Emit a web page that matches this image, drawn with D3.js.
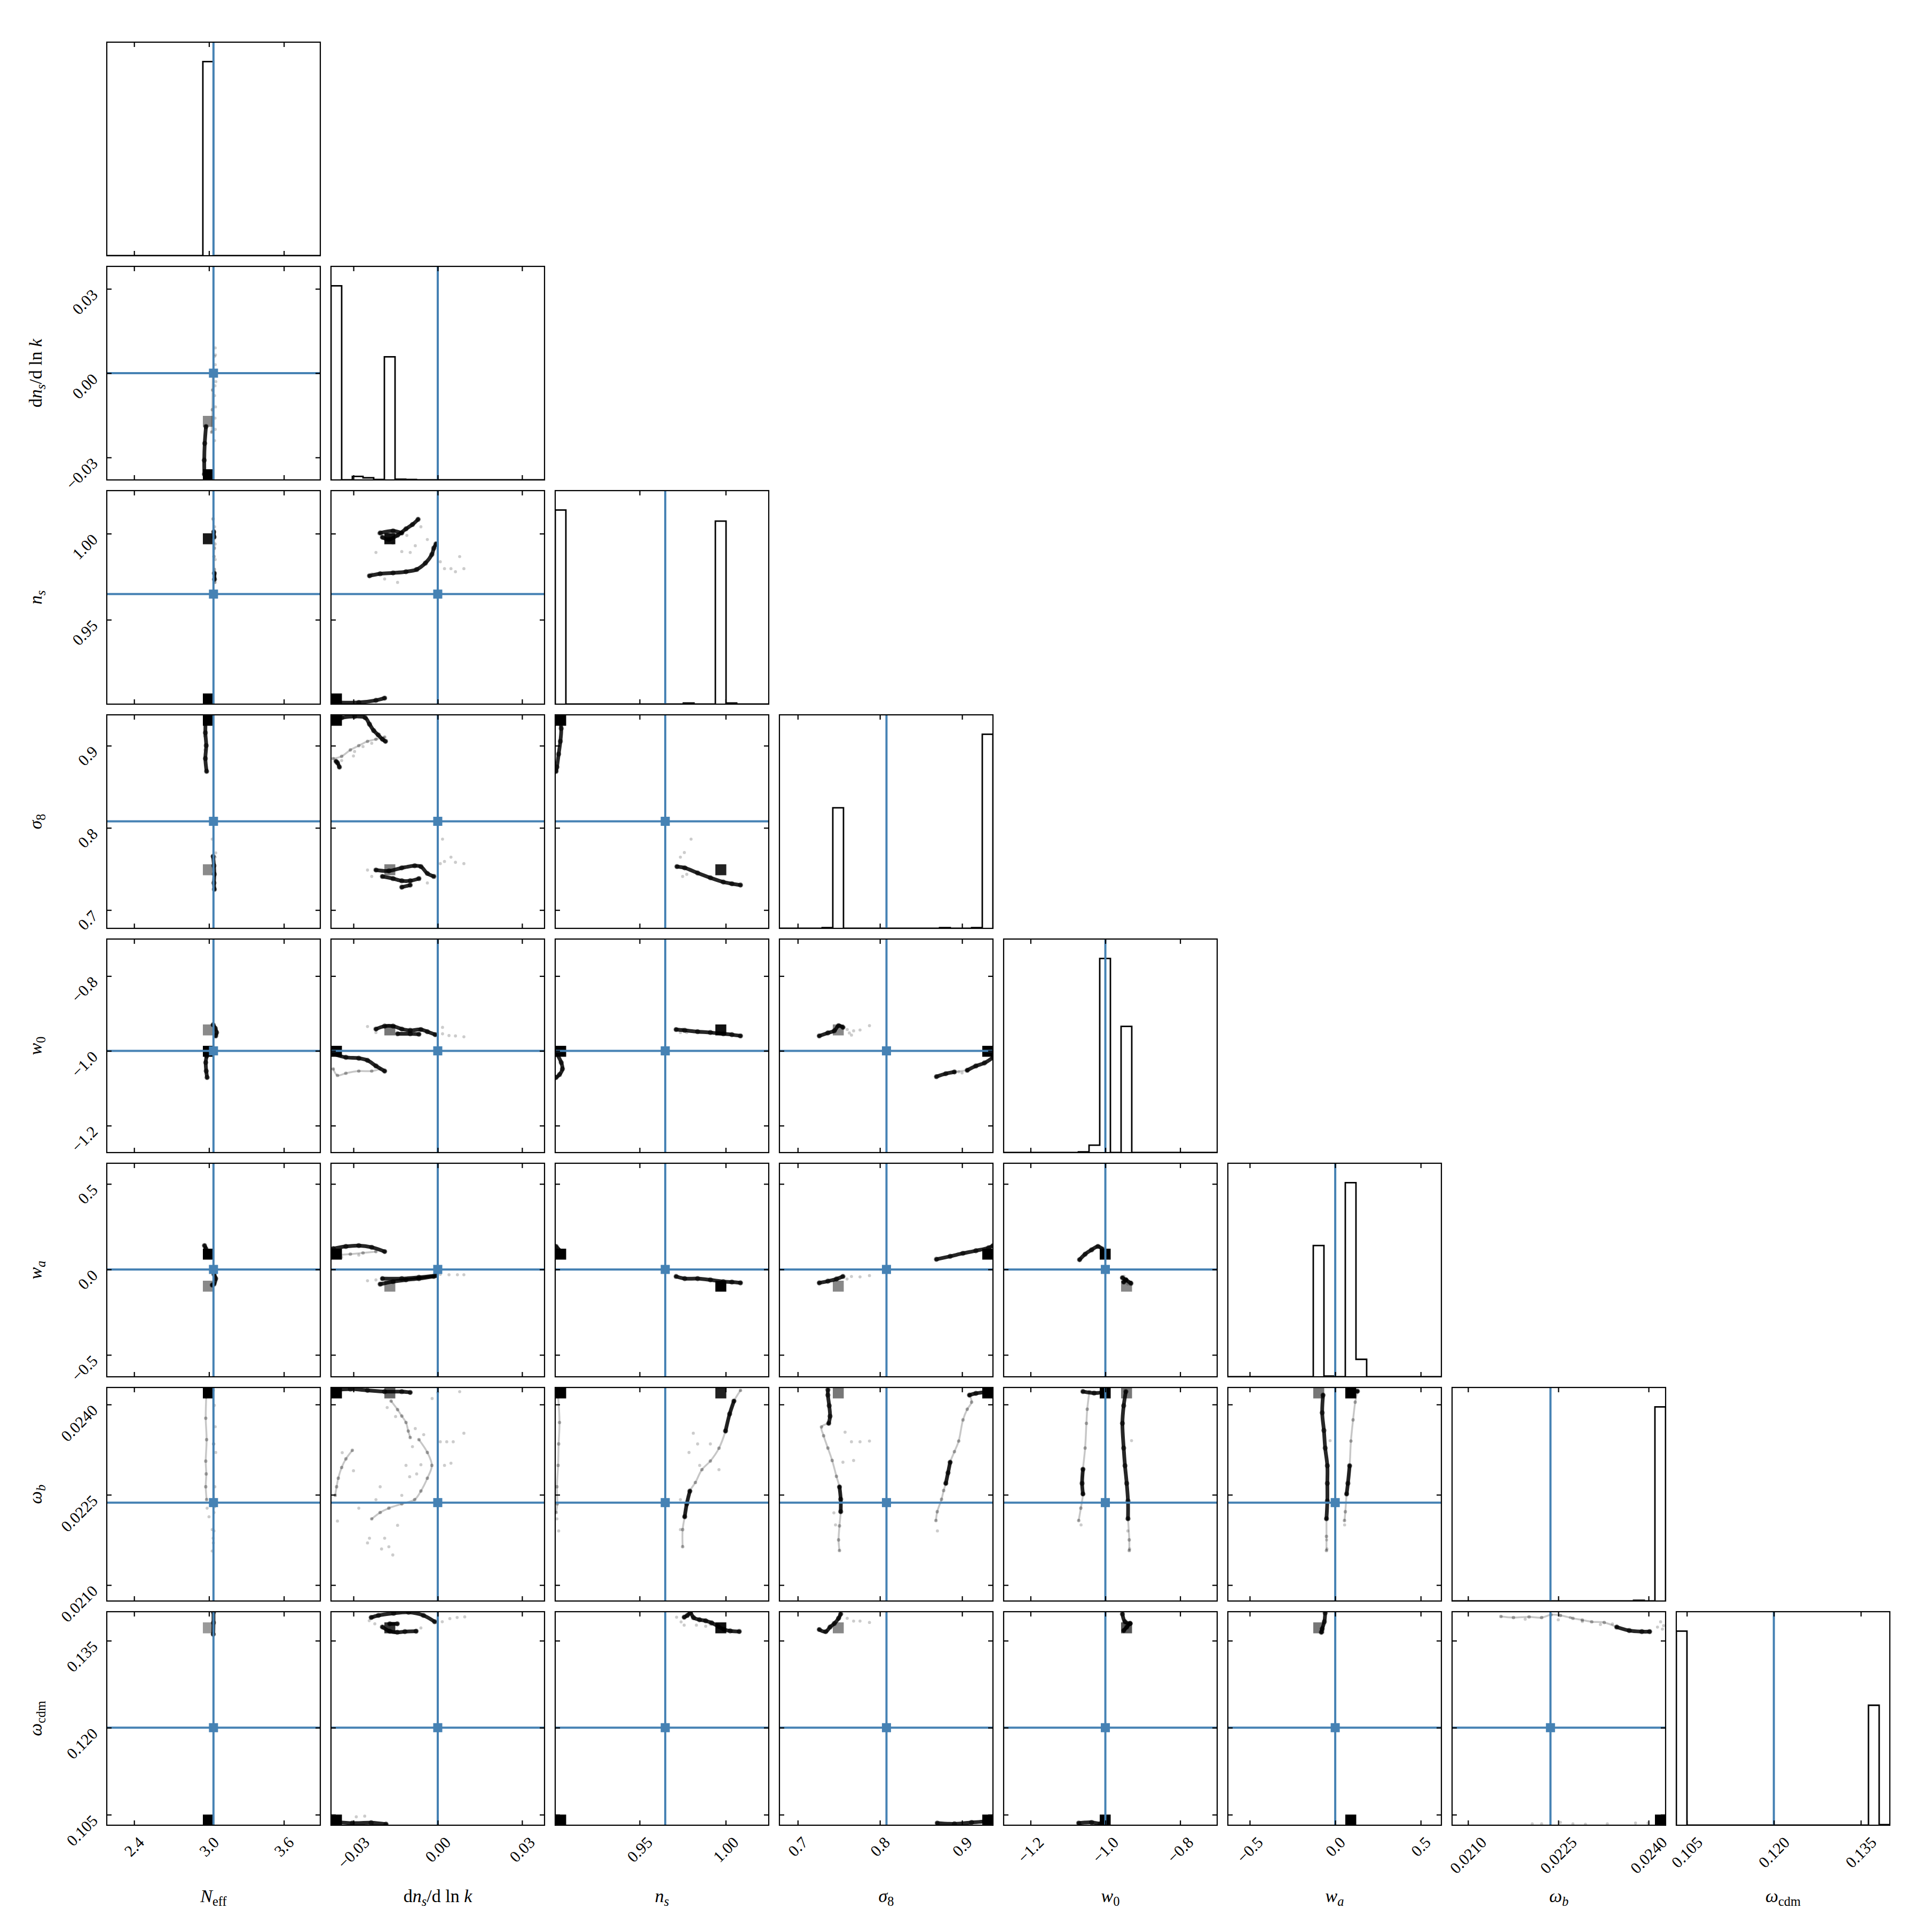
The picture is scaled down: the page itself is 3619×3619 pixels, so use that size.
<!DOCTYPE html>
<html><head><meta charset="utf-8">
<script src="https://cdn.jsdelivr.net/npm/d3@7"></script>
<style>body{margin:0;background:#fff}svg{display:block}</style>
</head><body>
<svg id="chart" width="3619" height="3619"></svg>
<script>
// ---------------- data ----------------
const paramRanges = [[2.181,3.892],[-0.038,0.038],[0.901,1.025],[0.6777,0.9376],[-1.272,-0.701],[-0.628,0.621],[0.020735,0.024283],[0.10318,0.14000]];
const truths = [3.036, 0.0, 0.9649, 0.808, -1.0, 0.0, 0.02237, 0.12];
const tickValues = [[2.4,3.0,3.6],[-0.03,0,0.03],[0.95,1.0],[0.7,0.8,0.9],[-1.2,-1.0,-0.8],[-0.5,0,0.5],[0.021,0.0225,0.024],[0.105,0.12,0.135]];
const tickLabels = [["2.4","3.0","3.6"],["\u22120.03","0.00","0.03"],["0.95","1.00"],["0.7","0.8","0.9"],["\u22121.2","\u22121.0","\u22120.8"],["\u22120.5","0.0","0.5"],["0.0210","0.0225","0.0240"],["0.105","0.120","0.135"]];
const axisLabels = [
  [["N","it"],["eff","subrm"]],
  [["d","rm"],["n","it"],["s","subit"],["/d ln ","rm"],["k","it"]],
  [["n","it"],["s","subit"]],
  [["\u03c3","it"],["8","subrm"]],
  [["w","it"],["0","subrm"]],
  [["w","it"],["a","subit"]],
  [["\u03c9","it"],["b","subit"]],
  [["\u03c9","it"],["cdm","subrm"]]
];
// 1D histograms (20 bins, relative heights)
const histNeff   = [0,0,0,0,0,0,0,0,0,1,0,0,0,0,0,0,0,0,0,0];
const histDns    = [1,0,0.018,0.011,0.002,0.634,0.004,0.002,0,0,0,0,0,0,0,0,0,0,0,0];
const histNs     = [1,0,0,0,0,0,0,0,0,0,0,0,0.006,0,0,0.943,0.006,0,0,0];
const histSigma8 = [0,0,0,0,0.004,0.621,0,0,0,0,0,0,0,0,0,0.004,0,0,0.004,1];
const histW0     = [0,0,0,0,0,0,0,0.004,0.038,1,0,0.65,0,0,0,0,0,0,0,0];
const histWa     = [0,0,0,0,0,0,0,0,0.676,0.004,0,1,0.09,0,0,0,0,0,0,0];
const histOmegab = [0,0,0,0,0,0,0,0,0,0,0,0,0,0,0,0,0,0.004,0,1];
const histOmegacdm=[1,0,0,0,0,0,0,0,0,0,0,0,0,0,0,0,0,0,0.618,0.003];
const hists = [histNeff,histDns,histNs,histSigma8,histW0,histWa,histOmegab,histOmegacdm];
// 2D density cells: [row, col, x, y, shade]
const densityCells = [
 [1,0,2.994,-0.0361,"#000"],[1,0,2.994,-0.0171,"#8a8a8a"],
 [2,0,2.994,0.9971,"#1a1a1a"],[2,0,2.994,0.9041,"#000"],
 [2,1,-0.0171,0.9971,"#111"],[2,1,-0.0361,0.9041,"#000"],
 [3,0,2.994,0.9311,"#000"],[3,0,2.994,0.7492,"#8a8a8a"],
 [3,1,-0.0361,0.9311,"#000"],[3,1,-0.0171,0.7492,"#808080"],
 [3,2,0.9041,0.9311,"#000"],[3,2,0.9971,0.7492,"#222"],
 [4,0,2.994,-0.9437,"#8a8a8a"],[4,0,2.994,-1.0008,"#000"],
 [4,1,-0.0361,-1.0008,"#000"],[4,1,-0.0171,-0.9437,"#777"],
 [4,2,0.9041,-1.0008,"#000"],[4,2,0.9971,-0.9437,"#111"],
 [4,3,0.7492,-0.9437,"#888"],[4,3,0.9311,-1.0008,"#000"],
 [5,0,2.994,0.0902,"#000"],[5,0,2.994,-0.0972,"#8a8a8a"],
 [5,1,-0.0361,0.0902,"#000"],[5,1,-0.0171,-0.0972,"#8a8a8a"],
 [5,2,0.9041,0.0902,"#000"],[5,2,0.9971,-0.0972,"#000"],
 [5,3,0.9311,0.0902,"#000"],[5,3,0.7492,-0.0972,"#888"],
 [5,4,-1.0008,0.0902,"#000"],[5,4,-0.9437,-0.0972,"#888"],
 [6,0,2.994,0.024194,"#000"],
 [6,1,-0.0361,0.024194,"#000"],[6,1,-0.0171,0.024194,"#666"],
 [6,2,0.9041,0.024194,"#000"],[6,2,0.9971,0.024194,"#222"],
 [6,3,0.7492,0.024194,"#777"],[6,3,0.9311,0.024194,"#000"],
 [6,4,-1.0008,0.024194,"#000"],[6,4,-0.9437,0.024194,"#777"],
 [6,5,-0.0972,0.024194,"#777"],[6,5,0.0902,0.024194,"#000"],
 [7,0,2.994,0.13634,"#999"],[7,0,2.994,0.1041,"#000"],
 [7,1,-0.0361,0.1041,"#000"],[7,1,-0.0171,0.13634,"#333"],
 [7,2,0.9041,0.1041,"#000"],[7,2,0.9971,0.13634,"#111"],
 [7,3,0.7492,0.13634,"#888"],[7,3,0.9311,0.1041,"#000"],
 [7,4,-1.0008,0.1041,"#000"],[7,4,-0.9437,0.13634,"#555"],
 [7,5,-0.0972,0.13634,"#777"],[7,5,0.0902,0.1041,"#000"],
 [7,6,0.024194,0.1041,"#000"]
];
// dense sample chains: [row, col, points]
const denseTracks = [
 [1,0,[[2.963,-0.036],[2.962,-0.031],[2.966,-0.025],[2.976,-0.019]]],
 [2,0,[[3.038,1.0010],[3.041,0.9980]]],
 [2,0,[[3.043,0.9770],[3.044,0.9735]]],
 [2,1,[[-0.0197,0.9979],[-0.0174,0.9966],[-0.0143,0.9991],[-0.0113,1.0028],[-0.009,1.0053],[-0.007,1.0083]]],
 [2,1,[[-0.0205,1.0004],[-0.0159,1.0016],[-0.0128,1.0004]]],
 [2,1,[[-0.0243,0.9755],[-0.0205,0.9767],[-0.0159,0.9772],[-0.0113,0.9779],[-0.0075,0.9792],[-0.0044,0.9829],[-0.0021,0.9879],[-0.0014,0.9916],[-0.0006,0.9941]]],
 [2,1,[[-0.0372,0.902],[-0.0281,0.902],[-0.022,0.9032],[-0.0189,0.9045]]],
 [3,0,[[2.974,0.934],[2.971,0.9157],[2.978,0.9001],[2.971,0.8844],[2.981,0.8688]]],
 [3,0,[[3.033,0.7654],[3.040,0.7539],[3.043,0.7435],[3.040,0.733],[3.043,0.7252]]],
 [3,1,[[-0.0342,0.934],[-0.0296,0.9356],[-0.0258,0.934],[-0.0243,0.9262],[-0.0228,0.9184],[-0.0212,0.9131],[-0.0197,0.9079],[-0.0186,0.9053]]],
 [3,1,[[-0.0362,0.8810],[-0.0357,0.8792],[-0.035,0.874]]],
 [3,1,[[-0.022,0.7487],[-0.0174,0.7476],[-0.0128,0.7513],[-0.0082,0.7539],[-0.006,0.7529],[-0.0037,0.7445],[-0.0014,0.7409]]],
 [3,1,[[-0.0197,0.7409],[-0.0159,0.7383],[-0.0128,0.7356],[-0.0098,0.7356],[-0.0067,0.7383]]],
 [3,1,[[-0.0128,0.7278],[-0.0098,0.7304]]],
 [3,2,[[0.9035,0.934],[0.9045,0.9209],[0.904,0.9053],[0.903,0.8897],[0.902,0.874],[0.9015,0.8688]]],
 [3,2,[[0.9717,0.7529],[0.9762,0.7513],[0.9837,0.7451],[0.9911,0.7393],[0.9986,0.7341],[1.0036,0.732],[1.0086,0.7304]]],
 [4,0,[[3.033,-0.9303],[3.050,-0.9395],[3.061,-0.951],[3.054,-0.9601]]],
 [4,0,[[2.981,-1.014],[2.974,-1.0312],[2.978,-1.0541],[2.985,-1.0713]]],
 [4,1,[[-0.022,-0.9418],[-0.0189,-0.9338],[-0.0159,-0.9338],[-0.0128,-0.9418],[-0.0098,-0.9452],[-0.006,-0.9429],[-0.0037,-0.9487],[-0.0009,-0.9567]]],
 [4,1,[[-0.0143,-0.9544],[-0.0098,-0.9544],[-0.0067,-0.9555]]],
 [4,1,[[-0.0372,-1.0083],[-0.0327,-1.0174],[-0.0281,-1.0197],[-0.025,-1.0255],[-0.022,-1.0404],[-0.0189,-1.0541]]],
 [4,2,[[0.9712,-0.943],[0.9762,-0.9452],[0.9837,-0.9487],[0.9911,-0.951],[0.9986,-0.9544],[1.0036,-0.9567],[1.0086,-0.9601]]],
 [4,2,[[0.902,-1.0083],[0.9045,-1.0312],[0.9052,-1.0484],[0.9035,-1.0633],[0.9015,-1.0713]]],
 [4,3,[[0.7262,-0.9601],[0.7367,-0.9521],[0.7445,-0.9464],[0.7497,-0.9326],[0.755,-0.9372]]],
 [4,3,[[0.8688,-1.069],[0.8802,-1.061],[0.8907,-1.0564]]],
 [4,3,[[0.9063,-1.0519],[0.9168,-1.0404],[0.9272,-1.0324],[0.9377,-1.0175]]],
 [5,0,[[2.964,0.1394],[2.975,0.1219],[2.978,0.0968]]],
 [5,0,[[3.040,-0.0286],[3.054,-0.0537],[3.040,-0.0863],[3.026,-0.0913]]],
 [5,1,[[-0.0372,0.1219],[-0.0327,0.1344],[-0.0281,0.1394],[-0.0235,0.1294],[-0.0189,0.1043]]],
 [5,1,[[-0.0205,-0.0863],[-0.0159,-0.0712],[-0.0113,-0.0612],[-0.0067,-0.0537],[-0.0014,-0.0411]]],
 [5,1,[[-0.0197,-0.0537],[-0.0128,-0.0537],[-0.0067,-0.0461],[-0.0006,-0.0361]]],
 [5,2,[[0.9712,-0.0411],[0.9762,-0.0537],[0.9837,-0.0537],[0.9911,-0.0612],[0.9986,-0.0712],[1.0036,-0.0737],[1.0086,-0.0787]]],
 [5,2,[[0.9015,0.1344],[0.9035,0.1093],[0.9027,0.0843]]],
 [5,3,[[0.8688,0.0592],[0.8855,0.0767],[0.9011,0.0943],[0.9168,0.1094],[0.9324,0.1269],[0.9377,0.1395]]],
 [5,3,[[0.7262,-0.0788],[0.7367,-0.0687],[0.7471,-0.0562],[0.755,-0.0411]]],
 [5,4,[[-1.069,0.0567],[-1.0541,0.0893],[-1.0369,0.1144],[-1.0198,0.1345],[-1.0083,0.1194]]],
 [5,4,[[-0.9544,-0.0487],[-0.9452,-0.0612],[-0.9315,-0.0813]]],
 [5,4,[[-0.951,-0.0737],[-0.9452,-0.0612]]],
 [6,1,[[-0.0372,0.024235],[-0.0311,0.024256],[-0.025,0.024235],[-0.0189,0.024214],[-0.0128,0.024214],[-0.0098,0.0242]]],
 [6,2,[[1.0048,0.024057],[1.0023,0.023843],[0.9999,0.023559]]],
 [6,2,[[0.9792,0.022562],[0.9774,0.022349],[0.9762,0.022135]]],
 [6,3,[[0.7367,0.024244],[0.7367,0.024156],[0.7383,0.02398],[0.7393,0.023804],[0.7377,0.023687]]],
 [6,3,[[0.7508,0.02263],[0.7523,0.022425],[0.7523,0.022219]]],
 [6,3,[[0.935,0.024215],[0.9168,0.024185],[0.909,0.024156]]],
 [6,3,[[0.8855,0.023041],[0.8829,0.022865],[0.8802,0.022689]]],
 [6,4,[[-1.0599,0.022924],[-1.0622,0.022689],[-1.0599,0.022513]]],
 [6,4,[[-0.9452,0.024215],[-0.951,0.02398],[-0.9544,0.023687],[-0.951,0.023276],[-0.9475,0.022982],[-0.9429,0.022689],[-0.9395,0.022396],[-0.9395,0.022102]]],
 [6,4,[[-1.06,0.024215],[-1.03,0.02419],[-1.01,0.0242]]],
 [6,5,[[-0.0712,0.024156],[-0.0762,0.023863],[-0.0662,0.023569],[-0.0587,0.023276],[-0.0461,0.022982],[-0.0461,0.022689],[-0.0461,0.022396],[-0.0512,0.022102]]],
 [6,5,[[0.0843,0.022982],[0.0742,0.022689],[0.0667,0.022513]]],
 [6,5,[[0.09,0.02422],[0.13,0.02422]]],
 [7,0,[[3.036,0.1399],[3.036,0.1381],[3.034,0.1361]]],
 [7,1,[[-0.0237,0.139],[-0.0211,0.13936],[-0.0157,0.13972],[-0.0104,0.1399],[-0.0051,0.13936],[-0.0011,0.13827]]],
 [7,1,[[-0.0197,0.13736],[-0.0171,0.13663],[-0.0144,0.13645],[-0.0117,0.13656],[-0.0077,0.13663]]],
 [7,1,[[-0.0171,0.13791],[-0.0144,0.13791]]],
 [7,1,[[-0.0357,0.10372],[-0.0304,0.10354],[-0.0237,0.10361],[-0.0184,0.10336]]],
 [7,2,[[0.9759,0.13905],[0.9777,0.13935],[0.9795,0.13979],[0.9813,0.13898],[0.9848,0.13861],[0.9884,0.13843],[0.9919,0.13806],[0.9955,0.1375],[0.999,0.13694],[1.0026,0.13668],[1.0079,0.13658]]],
 [7,3,[[0.7262,0.13692],[0.734,0.13655],[0.7393,0.13735],[0.7445,0.13796],[0.7497,0.13887],[0.7523,0.1396]]],
 [7,3,[[0.8698,0.10355],[0.8907,0.10342],[0.9116,0.10367],[0.9272,0.10385],[0.9377,0.10446]]],
 [7,4,[[-0.9544,0.1396],[-0.9475,0.13826],[-0.9338,0.13796]]],
 [7,4,[[-0.951,0.13674],[-0.9429,0.13735],[-0.9338,0.13796]]],
 [7,4,[[-1.0713,0.10355],[-1.0369,0.10367],[-1.014,0.10342]]],
 [7,5,[[-0.0587,0.13978],[-0.0637,0.13826],[-0.0762,0.13705],[-0.0812,0.13644]]],
 [7,6,[[0.023471,0.13735],[0.023679,0.13674],[0.023888,0.13656],[0.024018,0.13656]]]
];
// sparse sample chains: [row, col, points]
const sparseTracks = [
 [1,0,[[3.022,-0.021],[3.027,-0.013],[3.029,-0.006],[3.031,0.0]]],
 [2,0,[[3.033,1.0086],[3.040,1.0016],[3.043,0.9916],[3.040,0.9867],[3.043,0.9792],[3.047,0.9717]]],
 [3,1,[[-0.0372,0.8844],[-0.0342,0.8871],[-0.0311,0.8949],[-0.0281,0.9001],[-0.025,0.9053],[-0.022,0.9079],[-0.0189,0.9105]]],
 [4,1,[[-0.0372,-1.0484],[-0.0357,-1.0656],[-0.0327,-1.0599],[-0.0281,-1.0541],[-0.0235,-1.0541],[-0.0205,-1.0484]]],
 [4,3,[[0.8907,-1.0564],[0.9063,-1.0519]]],
 [5,1,[[-0.0365,0.0843],[-0.0311,0.0893],[-0.0266,0.0968],[-0.022,0.1043]]],
 [6,0,[[3.033,0.024235],[3.037,0.023345],[3.040,0.02242]]],
 [6,0,[[2.978,0.024128],[2.974,0.023772],[2.981,0.023416],[2.974,0.02306],[2.978,0.022847],[2.974,0.022633],[2.981,0.02242]]],
 [6,1,[[-0.0166,0.024057],[-0.0143,0.023915],[-0.0128,0.023808],[-0.0113,0.023701],[-0.0105,0.023559],[-0.0098,0.023452]]],
 [6,1,[[-0.0067,0.023416],[-0.0037,0.023203],[-0.0021,0.022989],[-0.0037,0.022776],[-0.006,0.022562],[-0.0082,0.02242],[-0.0128,0.022349],[-0.0174,0.022278],[-0.0205,0.022206],[-0.0235,0.0221]]],
 [6,1,[[-0.0365,0.022491],[-0.036,0.022633],[-0.0354,0.022776],[-0.0342,0.022954],[-0.0327,0.023096],[-0.0304,0.023238]]],
 [6,2,[[1.0086,0.024235],[1.0048,0.024057],[1.0023,0.023843],[0.9999,0.023559],[0.9961,0.023274],[0.9911,0.023061],[0.9862,0.022918],[0.9824,0.022705],[0.9792,0.022562],[0.9774,0.022349],[0.9762,0.022135],[0.975,0.021922],[0.975,0.021637]]],
 [6,2,[[0.9027,0.024128],[0.9035,0.023701],[0.903,0.023345],[0.9027,0.022989],[0.902,0.022633],[0.9022,0.022349],[0.9015,0.022206]]],
 [6,3,[[0.7377,0.023687],[0.7289,0.023628],[0.7315,0.023481],[0.7367,0.023276],[0.7419,0.02307],[0.7471,0.022806],[0.7508,0.02263],[0.7523,0.022425],[0.7523,0.022219],[0.7508,0.021984],[0.7497,0.02175],[0.7508,0.021574]]],
 [6,3,[[0.909,0.024156],[0.9116,0.024039],[0.9063,0.023922],[0.9011,0.023745],[0.8959,0.023393],[0.8907,0.023217],[0.8855,0.023041],[0.8829,0.022865],[0.8802,0.022689],[0.8776,0.022571],[0.875,0.022425],[0.8698,0.022219],[0.8682,0.022072]]],
 [6,4,[[-1.0427,0.024215],[-1.0484,0.023922],[-1.0507,0.023687],[-1.0541,0.023276],[-1.0599,0.022924],[-1.0622,0.022689],[-1.0599,0.022513],[-1.0656,0.022278],[-1.0713,0.022072]]],
 [6,4,[[-0.9395,0.022102],[-0.9361,0.02175],[-0.9361,0.021574]]],
 [6,5,[[-0.0512,0.022102],[-0.0512,0.021808],[-0.0512,0.021574]]],
 [6,5,[[0.1294,0.024215],[0.1169,0.024039],[0.1043,0.023745],[0.0918,0.023393],[0.0843,0.022982],[0.0742,0.022689],[0.0667,0.022513],[0.0592,0.022219],[0.0542,0.022072]]],
 [7,6,[[0.021547,0.13917],[0.021755,0.13899],[0.022015,0.13911],[0.022223,0.13899],[0.022379,0.13947],[0.022535,0.13935],[0.022743,0.13886],[0.022899,0.13856],[0.023055,0.13826],[0.023263,0.13814],[0.023471,0.13735]]]
];
// isolated faint samples: [row, col, x, y]
const scatterDots = [
 [1,0,3.05,0.009],[1,0,3.045,0.006],[1,0,3.05,0.003],[1,0,3.055,-0.003],[1,0,3.045,-0.008],[1,0,3.052,-0.012],[1,0,3.048,-0.016],[1,0,3.05,-0.020],[1,0,3.045,-0.024],[1,0,3.052,0.0065],[1,0,3.048,-0.0045],
 [2,0,3.047,0.976],[2,0,3.05,0.985],[2,0,3.045,1.004],[2,0,3.05,0.994],
 [2,1,-0.022,0.9891],[2,1,-0.0128,0.9896],[2,1,-0.0098,0.9891],[2,1,-0.0037,0.9966],[2,1,0.0009,0.9837],[2,1,0.0024,0.9797],[2,1,0.0047,0.9797],[2,1,0.0063,0.9779],[2,1,0.0078,0.9867],[2,1,0.0093,0.9797],[2,1,-0.0143,0.9717],[2,1,-0.0189,0.9737],[2,1,-0.0235,0.9767],[2,1,-0.021,1.0],[2,1,-0.016,0.9945],[2,1,-0.011,0.999],[2,1,-0.008,0.993],[2,1,-0.006,1.004],
 [3,0,3.026,0.7863],[3,0,3.05,0.7644],[3,0,3.054,0.7696],[3,0,2.965,0.912],[3,0,2.968,0.895],
 [3,1,0.0009,0.7565],[3,1,0.0024,0.7591],[3,1,0.0047,0.7644],[3,1,0.0063,0.7581],[3,1,0.0093,0.7565],[3,1,0.0017,0.7863],[3,1,-0.025,0.7487],[3,1,-0.0235,0.7409],[3,1,-0.0037,0.733],[3,1,-0.0296,0.893],[3,1,-0.0266,0.899],[3,1,-0.0235,0.903],[3,1,-0.0342,0.882],[3,1,-0.03,0.8875],
 [3,2,0.9737,0.7644],[3,2,0.9799,0.7863],[3,2,0.9774,0.7435],[3,2,0.975,0.7409],[3,2,0.976,0.77],
 [4,1,-0.025,-0.9349],[4,1,-0.022,-0.951],[4,1,0.0017,-0.9544],[4,1,0.004,-0.959],[4,1,0.0063,-0.9601],[4,1,0.0093,-0.9624],[4,1,0.0017,-0.9372],
 [4,2,0.975,-0.9418],[4,2,0.9774,-0.951],[4,2,0.9737,-0.951],
 [4,3,0.7602,-0.9429],[4,3,0.7628,-0.9521],[4,3,0.7654,-0.9578],[4,3,0.768,-0.9464],[4,3,0.7758,-0.9441],[4,3,0.7873,-0.9326],[4,3,0.896,-1.056],[4,3,0.9,-1.059],
 [5,1,-0.025,-0.0662],[5,1,-0.022,-0.0612],[5,1,0.0009,-0.0286],[5,1,0.004,-0.0311],[5,1,0.007,-0.0311],[5,1,0.0093,-0.0311],[5,1,-0.0342,0.0717],[5,1,-0.0281,0.0843],
 [5,3,0.7654,-0.0411],[5,3,0.7758,-0.0436],[5,3,0.7873,-0.0361],[5,3,0.76,-0.056],
 [5,4,-0.95,-0.04],[5,4,-0.94,-0.085],
 [6,0,3.043,0.023986],[6,0,3.05,0.02363],[6,0,3.054,0.023203],[6,0,3.047,0.022633],[6,0,3.04,0.022206],[6,0,3.026,0.021922],[6,0,3.033,0.021779],[6,0,3.026,0.021566],[6,0,3.0,0.022135],[6,0,2.985,0.022278],[6,0,3.04,0.0219],[6,0,3.035,0.0217],[6,0,3.045,0.0223],
 [6,1,-0.0189,0.021779],[6,1,-0.0174,0.021637],[6,1,-0.0243,0.021779],[6,1,-0.0357,0.022064],[6,1,0.0009,0.023381],[6,1,0.0032,0.023381],[6,1,0.0055,0.023381],[6,1,0.0093,0.023523],[6,1,0.0024,0.022989],[6,1,0.0047,0.023025],[6,1,0.0078,0.024214],[6,1,-0.0281,0.022278],[6,1,-0.0143,0.021993],[6,1,-0.022,0.02242],[6,1,-0.0075,0.022847],[6,1,-0.0113,0.022989],[6,1,-0.0205,0.022633],[6,1,-0.0128,0.022491],[6,1,-0.015,0.0238],[6,1,-0.008,0.0236],[6,1,-0.009,0.0233],[6,1,-0.005,0.0235],[6,1,-0.018,0.02395],[6,1,-0.025,0.0217],[6,1,-0.02,0.0216],[6,1,-0.016,0.0215],[6,1,-0.03,0.0229],[6,1,-0.034,0.0232],[6,1,-0.002,0.0241],[6,1,0.0,0.0242],[6,1,-0.01,0.0228],[6,1,-0.006,0.023],
 [6,2,0.9812,0.023523],[6,2,0.9787,0.023203],[6,2,0.9837,0.023345],[6,2,0.9911,0.023345],[6,2,0.9961,0.022918],[6,2,0.9737,0.021922],[6,2,0.9849,0.022989],[6,2,0.9737,0.02242],[6,2,0.902,0.0221],[6,2,0.903,0.0219],
 [6,3,0.7576,0.02354],[6,3,0.7654,0.023381],[6,3,0.7758,0.023381],[6,3,0.7873,0.023393],[6,3,0.768,0.02307],[6,3,0.755,0.023041],[6,3,0.746,0.022],[6,3,0.744,0.0222],[6,3,0.87,0.0219],
 [6,4,-1.065,0.022],[6,4,-0.94,0.0219],[6,4,-0.935,0.0216],[6,4,-0.93,0.0234],
 [6,5,-0.05,0.02175],[6,5,-0.048,0.0216],[6,5,0.055,0.022],[6,5,-0.03,0.0234],
 [7,1,0.0016,0.13827],[7,1,0.0043,0.13881],[7,1,0.0069,0.139],[7,1,0.0096,0.13911],[7,1,-0.0244,0.13845],[7,1,-0.0224,0.13791],[7,1,-0.029,0.10463],[7,1,-0.026,0.10475],[7,1,-0.023,0.139],[7,1,-0.006,0.1372],
 [7,2,0.9715,0.13905],[7,2,0.9741,0.13824],[7,2,0.9759,0.13768],[7,2,0.983,0.13768],[7,2,0.9884,0.1375],[7,2,0.991,0.13787],
 [7,3,0.7602,0.13887],[7,3,0.768,0.13838],[7,3,0.7758,0.13838],[7,3,0.7873,0.13814],
 [7,6,0.024148,0.13735],[7,6,0.0242,0.13826],[7,6,0.02425,0.1376],[7,6,0.02423,0.137],[7,6,0.022067,0.10342],[7,6,0.022223,0.10342],[7,6,0.022535,0.10367],[7,6,0.022743,0.10342],[7,6,0.022951,0.10336],[7,6,0.023315,0.10342],[7,6,0.023783,0.10355],[7,6,0.023992,0.10355],[7,6,0.02195,0.1387],[7,6,0.0225,0.1386],[7,6,0.0229,0.1383],[7,6,0.0232,0.1378],[7,6,0.0234,0.1379],[7,6,0.0227,0.139]
];

// ---------------- drawing ----------------
const NP = 8, size = 400, step = 420, left0 = 200, top0 = 79;
const fs = 30, lfs = 34, fontFam = "'Liberation Serif','DejaVu Serif',serif";
const blue = "#4682b4";
const svg = d3.select("#chart");
svg.append("rect").attr("width",3619).attr("height",3619).attr("fill","#fff");
svg.append("defs").append("clipPath").attr("id","pclip").append("rect").attr("width",size).attr("height",size);

const xScales = paramRanges.map(r => d3.scaleLinear().domain(r).range([0,size]));
const yScales = paramRanges.map(r => d3.scaleLinear().domain(r).range([size,0]));
const nb = 20;

function richText(sel, segs){
  let shift = 0;
  segs.forEach(([t,k]) => {
    const sub = k.startsWith("sub");
    const ts = sel.append("tspan").text(t)
      .attr("font-style", k.endsWith("it") ? "italic" : "normal")
      .attr("font-size", sub ? lfs*0.72 : lfs);
    const target = sub ? lfs*0.22 : 0;
    if (target !== shift) { ts.attr("dy", target - shift); shift = target; }
  });
}

function styleAxis(a){
  a.select(".domain").remove();
  a.selectAll(".tick line").attr("stroke","#000").attr("stroke-width",2.2);
  a.selectAll(".tick text").remove();
}

for (let r = 0; r < NP; r++) {
  for (let c = 0; c <= r; c++) {
    const g = svg.append("g").attr("transform", `translate(${left0 + c*step},${top0 + r*step})`);
    const x = xScales[c];
    const [xlo, xhi] = paramRanges[c];
    const inner = g.append("g").attr("clip-path","url(#pclip)");
    if (r === c) {
      const h = hists[c];
      const bw = (xhi - xlo) / h.length;
      const y = d3.scaleLinear().domain([0, 1.1*d3.max(h)]).range([size,0]);
      const pts = [[xlo,0]];
      h.forEach((v,i) => { pts.push([xlo+i*bw, v]); pts.push([xlo+(i+1)*bw, v]); });
      pts.push([xhi,0]);
      inner.append("path").attr("d", d3.line().x(d=>x(d[0])).y(d=>y(d[1]))(pts))
        .attr("fill","none").attr("stroke","#000").attr("stroke-width",2.8);
      inner.append("line").attr("x1",x(truths[c])).attr("x2",x(truths[c])).attr("y1",0).attr("y2",size)
        .attr("stroke",blue).attr("stroke-width",4);
    } else {
      const y = yScales[r];
      const [ylo, yhi] = paramRanges[r];
      const bwx = (xhi-xlo)/nb, bwy = (yhi-ylo)/nb;
      densityCells.filter(d => d[0]===r && d[1]===c).forEach(d => {
        const ix = Math.floor((d[2]-xlo)/bwx), iy = Math.floor((d[3]-ylo)/bwy);
        const x0 = x(xlo+ix*bwx), x1 = x(xlo+(ix+1)*bwx);
        const y0 = y(ylo+(iy+1)*bwy), y1 = y(ylo+iy*bwy);
        inner.append("rect").attr("x",x0).attr("y",y0).attr("width",x1-x0+0.5).attr("height",y1-y0+0.5).attr("fill",d[4]);
      });
      const line = d3.line().x(d=>x(d[0])).y(d=>y(d[1])).curve(d3.curveCatmullRom.alpha(0.5));
      sparseTracks.filter(d => d[0]===r && d[1]===c).forEach(d => {
        inner.append("path").attr("d", line(d[2])).attr("fill","none").attr("stroke","#000")
          .attr("stroke-opacity",0.22).attr("stroke-width",3.5).attr("stroke-linecap","round");
        d[2].forEach(p => inner.append("circle").attr("cx",x(p[0])).attr("cy",y(p[1])).attr("r",3.2).attr("fill","#000").attr("fill-opacity",0.3));
      });
      denseTracks.filter(d => d[0]===r && d[1]===c).forEach(d => {
        inner.append("path").attr("d", line(d[2])).attr("fill","none").attr("stroke","#000")
          .attr("stroke-opacity",0.85).attr("stroke-width",7).attr("stroke-linecap","round").attr("stroke-linejoin","round");
        d[2].forEach(p => inner.append("circle").attr("cx",x(p[0])).attr("cy",y(p[1])).attr("r",4.8).attr("fill","#000").attr("fill-opacity",0.55));
      });
      scatterDots.filter(d => d[0]===r && d[1]===c).forEach(d => {
        inner.append("circle").attr("cx",x(d[2])).attr("cy",y(d[3])).attr("r",2.9).attr("fill","#000").attr("fill-opacity",0.2);
      });
      const tx = x(truths[c]), ty = y(truths[r]);
      inner.append("line").attr("x1",tx).attr("x2",tx).attr("y1",0).attr("y2",size).attr("stroke",blue).attr("stroke-width",4);
      inner.append("line").attr("x1",0).attr("x2",size).attr("y1",ty).attr("y2",ty).attr("stroke",blue).attr("stroke-width",4);
      inner.append("rect").attr("x",tx-8.5).attr("y",ty-8.5).attr("width",17).attr("height",17).attr("fill",blue);
    }
    // frame
    g.append("rect").attr("width",size).attr("height",size).attr("fill","none").attr("stroke","#000").attr("stroke-width",2.2);
    // ticks
    const xt = tickValues[c].filter(t => t>=xlo && t<=xhi);
    g.append("g").attr("transform",`translate(0,${size})`).call(d3.axisBottom(x).tickValues(xt).tickSize(-9).tickSizeOuter(0)).call(styleAxis);
    g.append("g").call(d3.axisTop(x).tickValues(xt).tickSize(-9).tickSizeOuter(0)).call(styleAxis);
    if (r !== c) {
      const y = yScales[r];
      const [ylo, yhi] = paramRanges[r];
      const yt = tickValues[r].filter(t => t>=ylo && t<=yhi);
      g.append("g").call(d3.axisLeft(y).tickValues(yt).tickSize(-9).tickSizeOuter(0)).call(styleAxis);
      g.append("g").attr("transform",`translate(${size},0)`).call(d3.axisRight(y).tickValues(yt).tickSize(-9).tickSizeOuter(0)).call(styleAxis);
      if (c === 0) {
        tickValues[r].forEach((t,i) => {
          if (t < ylo || t > yhi) return;
          const tt = g.append("text").text(tickLabels[r][i]).attr("font-family",fontFam).attr("font-size",fs)
            .attr("text-anchor","middle").attr("dominant-baseline","central");
          const w = tt.node().getComputedTextLength();
          const d = (w + 0.72*fs) * Math.SQRT1_2;
          tt.attr("transform",`translate(${-15 - d/2},${y(t) - 2 + d/2}) rotate(-45)`);
        });
        const yl = g.append("text").attr("font-family",fontFam).attr("font-size",lfs).attr("text-anchor","middle")
          .attr("transform",`translate(-122,${size/2}) rotate(-90)`);
        richText(yl, axisLabels[r]);
      }
    }
    if (r === NP-1) {
      tickValues[c].forEach((t,i) => {
        if (t < xlo || t > xhi) return;
        const tt = g.append("text").text(tickLabels[c][i]).attr("font-family",fontFam).attr("font-size",fs)
          .attr("text-anchor","middle").attr("dominant-baseline","central");
        const w = tt.node().getComputedTextLength();
        const d = (w + 0.72*fs) * Math.SQRT1_2;
        tt.attr("transform",`translate(${x(t)},${size + 19 + d/2}) rotate(-45)`);
      });
      const xl = g.append("text").attr("font-family",fontFam).attr("font-size",lfs).attr("text-anchor","middle")
        .attr("x",size/2).attr("y",size+144);
      richText(xl, axisLabels[c]);
    }
  }
}
</script>
</body></html>
